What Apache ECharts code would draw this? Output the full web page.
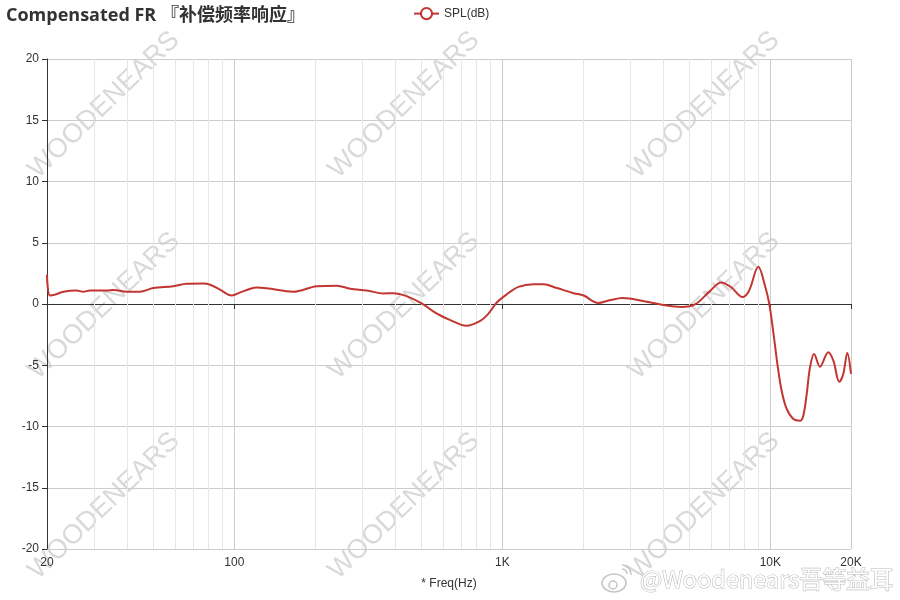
<!DOCTYPE html>
<html>
<head>
<meta charset="utf-8">
<script src="https://cdn.jsdelivr.net/npm/echarts@6/dist/echarts.min.js"></script>
<style>html,body{margin:0;padding:0;background:#fff;}#c{width:900px;height:600px;}</style>
</head>
<body>
<div id="c"></div>
<script>
// Frequency (Hz)
var freq = [20, 20.5, 21.5, 23, 25.8, 27.3, 28.9, 33.4, 35.4, 39.7, 44.4, 49.8, 59.2, 66.5, 76.7, 81.2, 88.4, 97.8,
  105.3, 114.7, 121, 132, 166, 203, 241, 271, 312, 360, 392, 439, 500, 552, 595, 637, 734, 824, 886, 952,
  1038, 1148, 1306, 1424, 1598, 1846, 2012, 2280, 2512, 2814, 3424, 4050, 4660, 5234, 5938, 6552, 7130, 7868,
  8322, 9018, 9552, 9912, 10262, 10626, 11020, 11512, 12188, 12908, 13274, 13670, 14062, 14564, 15322,
  16454, 17188, 18086, 18714, 19372, 20000];
// SPL (dB)
var spl = [2.4, 0.7, 0.78, 1.0, 1.1, 1.0, 1.1, 1.1, 1.15, 1.0, 1.0, 1.3, 1.45, 1.65, 1.67, 1.57, 1.18, 0.7,
  0.95, 1.24, 1.35, 1.29, 1.0, 1.45, 1.5, 1.24, 1.1, 0.86, 0.88, 0.64, 0.05, -0.6, -1.0, -1.3, -1.78, -1.4, -0.8, 0.1,
  0.78, 1.4, 1.62, 1.62, 1.3, 0.88, 0.69, 0.08, 0.3, 0.49, 0.21, -0.11, -0.24, -0.03, 1.03, 1.76, 1.39, 0.57,
  1.06, 3.04, 1.49, 0.0, -2.31, -4.9, -7.08, -8.57, -9.39, -9.53, -9.12, -7.35, -5.17, -4.08, -5.12,
  -3.94, -4.63, -6.34, -5.71, -4.0, -5.71];
// Minor vertical grid frequencies
var minorFreqs = [30, 40, 50, 60, 70, 80, 90, 200, 300, 400, 500, 600, 700, 800, 900,
  2000, 3000, 4000, 5000, 6000, 7000, 8000, 9000];
// Axis ranges / tick labels
var xMin = 20, xMax = 20000;
var yMin = -20, yMax = 20, yStep = 5;
var xTickLabels = {20: '20', 100: '100', 1000: '1K', 10000: '10K', 20000: '20K'};
var titleText = 'Compensated FR 『补偿频率响应』';
var seriesName = 'SPL(dB)';
var xName = '* Freq(Hz)';
var watermark = 'WOODENEARS';
var weiboText = '@Woodenears吾等益耳';

var chart = echarts.init(document.getElementById('c'), null, {renderer: 'canvas'});
var data = freq.map(function (f, i) { return [f, spl[i]]; });

var wm = [];
[104, 404, 704].forEach(function (cx) {
  [105, 306, 506].forEach(function (cy) {
    wm.push({
      type: 'text', x: cx, y: cy, rotation: Math.PI / 180 * 44, z: 0, silent: true,
      style: {text: watermark, fill: '#d9d9d9', font: '27px "Liberation Sans", sans-serif',
        textAlign: 'center', textVerticalAlign: 'middle'}
    });
  });
});
wm.push({type: 'ellipse', shape: {cx: 614, cy: 583, rx: 12, ry: 9}, z: 50, silent: true,
  style: {fill: '#fff', stroke: '#c4c4c4', lineWidth: 1.5}});
wm.push({type: 'circle', shape: {cx: 613, cy: 585, r: 4}, z: 51, silent: true,
  style: {fill: '#fff', stroke: '#c4c4c4', lineWidth: 1.5}});
wm.push({type: 'arc', shape: {cx: 622, cy: 574, r: 5, startAngle: -Math.PI / 2, endAngle: 0}, z: 51, silent: true,
  style: {fill: null, stroke: '#c4c4c4', lineWidth: 1.5}});
wm.push({type: 'arc', shape: {cx: 622, cy: 574, r: 9, startAngle: -Math.PI / 2, endAngle: 0.1}, z: 51, silent: true,
  style: {fill: null, stroke: '#c4c4c4', lineWidth: 1.5}});
wm.push({type: 'text', x: 640, y: 579, z: 50, silent: true,
  style: {text: weiboText, fill: '#ffffff', stroke: '#bdbdbd', lineWidth: 1.2,
    font: '23.5px "Noto Sans CJK SC", sans-serif', textVerticalAlign: 'middle',
    shadowBlur: 2, shadowColor: 'rgba(0,0,0,0.15)'}});

var option = {
  animation: false,
  backgroundColor: '#fff',
  title: {
    text: titleText, left: 1, top: 2,
    textStyle: {fontSize: 18, fontWeight: 'bold', color: '#333', fontFamily: '"Open Sans", "Noto Sans CJK SC", sans-serif'}
  },
  legend: {
    data: [seriesName], left: 408, top: 2, itemWidth: 25, itemHeight: 14, itemGap: 5,
    textStyle: {fontSize: 12, color: '#333', fontFamily: '"Liberation Sans", sans-serif'}
  },
  grid: {left: 47, right: 49, top: 59, bottom: 51, containLabel: false},
  graphic: wm,
  xAxis: [{
    type: 'log', min: xMin, max: xMax, logBase: 10,
    position: 'bottom',
    name: xName, nameLocation: 'middle', nameGap: 29,
    nameTextStyle: {fontSize: 12, color: '#333', fontFamily: '"Liberation Sans", sans-serif'},
    axisLine: {show: false, onZero: false},
    axisTick: {show: false},
    axisLabel: {
      color: '#333', fontSize: 12, margin: 8, showMinLabel: true, showMaxLabel: true,
      fontFamily: '"Liberation Sans", sans-serif',
      formatter: function (v) { var r = Math.round(v); return xTickLabels[r] !== undefined ? xTickLabels[r] : ''; }
    },
    splitLine: {show: true, lineStyle: {color: '#cccccc', width: 1}},
    minorTick: {show: false}
  }, {
    type: 'log', min: xMin, max: xMax, logBase: 10,
    position: 'bottom',
    axisLine: {show: true, onZero: true, lineStyle: {color: '#333', width: 1}},
    axisTick: {show: true, length: 5, lineStyle: {color: '#333'}},
    axisLabel: {show: false},
    splitLine: {show: false}
  }],
  yAxis: {
    type: 'value', min: yMin, max: yMax, interval: yStep,
    axisLine: {show: true, lineStyle: {color: '#333'}},
    axisTick: {show: true, length: 5, lineStyle: {color: '#333'}},
    axisLabel: {color: '#333', fontSize: 12, margin: 8, fontFamily: '"Liberation Sans", sans-serif'},
    splitLine: {show: true, lineStyle: {color: '#cccccc', width: 1}}
  },
  series: [{
    name: 'minor', type: 'line', data: [], z: 1, silent: true, xAxisIndex: 0,
    markLine: {
      silent: true, symbol: 'none', label: {show: false}, animation: false,
      lineStyle: {color: '#e6e6e6', type: 'solid', width: 1},
      data: minorFreqs.map(function (f) { return {xAxis: f}; })
    }
  }, {
    name: seriesName, type: 'line', xAxisIndex: 0, data: data, smooth: 0.35,
    showSymbol: false, symbol: 'emptyCircle', symbolSize: 10, z: 5,
    lineStyle: {color: '#c23531', width: 2},
    itemStyle: {color: '#c23531'}
  }]
};
chart.setOption(option);
</script>
</body>
</html>
